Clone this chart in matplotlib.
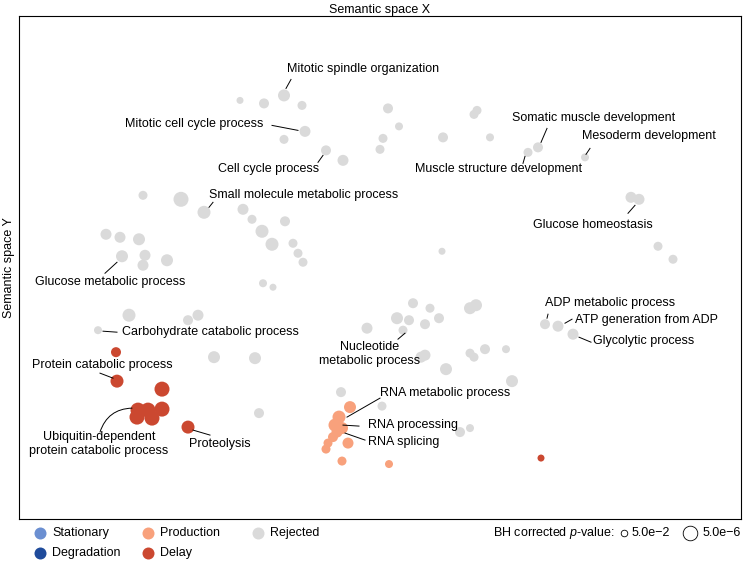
"""GO-term semantic space scatter (REVIGO style) with enrichment categories."""
import matplotlib
matplotlib.use("Agg")
import matplotlib.pyplot as plt
import numpy as np

plt.rcParams["font.family"] = ["Liberation Sans", "DejaVu Sans"]
plt.rcParams["mathtext.fontset"] = "custom"
plt.rcParams["mathtext.rm"] = "Liberation Sans"
plt.rcParams["mathtext.it"] = "Liberation Sans:italic"

# ---------------------------------------------------------------------------
# Data: semantic coordinates and -log10(BH p-value) per GO term
# ---------------------------------------------------------------------------
REJECTED_X = np.array([221, 245, 265, 283, 286, 265, 307, 324,
                       124, 162, 185, 224, 233, 243, 266, 253, 274, 279, 284,
                       87, 101, 120, 103, 126, 124, 148, 244, 254,
                       169, 179, 110, 79, 195, 236, 240, 348, 322,
                       394, 411, 378, 390, 384, 406, 420, 451, 457,
                       406, 402, 427, 451, 455, 466, 487, 493, 363, 441, 451,
                       526, 539, 554, 654, 639, 612, 620, 566, 509, 519, 471,
                       455, 458, 424, 369, 380, 364, 361, 423])
REJECTED_Y = np.array([419, 416, 424, 414, 388, 380, 369, 359,
                       324, 320, 307, 310, 300, 288, 298, 275, 276, 266, 257,
                       285, 282, 280, 263, 264, 254, 259, 236, 232,
                       199, 204, 204, 189, 162, 161, 106, 191, 127,
                       216, 211, 201, 199, 189, 195, 201, 211, 214,
                       164, 162, 150, 166, 162, 170, 170, 138, 113, 87, 91,
                       195, 193, 185, 260, 273, 322, 320, 362, 367, 372, 382,
                       405, 409, 382, 411, 393, 381, 370, 268])
REJECTED_NLP = np.array([1.5, 3.0, 4.0, 2.5, 3.5, 2.5, 3.0, 3.5,
                         2.5, 5.5, 4.5, 3.5, 2.5, 4.5, 3.0, 4.5, 2.5, 2.5, 2.5,
                         3.5, 3.5, 4.0, 4.0, 3.5, 3.5, 4.0, 2.0, 1.5,
                         3.0, 3.5, 4.5, 2.0, 4.0, 4.0, 3.0, 3.5, 3.0,
                         3.0, 2.5, 4.0, 3.0, 2.5, 3.0, 3.0, 4.0, 4.0,
                         3.5, 3.5, 4.0, 2.5, 2.5, 3.0, 2.0, 4.0, 2.5, 3.0, 2.0,
                         3.0, 3.5, 3.5, 2.5, 2.5, 3.5, 3.5, 2.0, 2.5, 3.0, 2.0,
                         2.5, 2.5, 3.0, 3.0, 2.0, 2.5, 2.5, 1.5])

PRODUCTION_X = np.array([331, 320, 316, 323, 318, 314, 309, 307, 329, 323, 370])
PRODUCTION_Y = np.array([112, 102, 94, 91, 87, 82, 76, 70, 76, 58, 55])
PRODUCTION_NLP = np.array([4.0, 4.5, 4.5, 4.0, 3.5, 3.0, 2.5, 2.5, 3.5, 2.5, 2.0])

DELAY_X = np.array([97, 98, 143, 119, 129, 143, 118, 133, 169, 522])
DELAY_Y = np.array([167, 138, 130, 109, 109, 110, 102, 101, 92, 61])
DELAY_NLP = np.array([3.0, 4.5, 5.5, 5.5, 5.5, 5.5, 5.5, 5.5, 4.5, 1.5])

CATEGORIES = ["Stationary", "Degradation", "Production", "Delay", "Rejected"]
COLORS = {
    "Stationary": "#6b8fd1",
    "Degradation": "#1f4b9b",
    "Production": "#f8a17c",
    "Delay": "#cb4830",
    "Rejected": "#dadada",
}
PVAL_LEGEND = [5.0e-2, 5.0e-6]
PVAL_LABELS = ["5.0e\u22122", "5.0e\u22126"]

# label, text x, text y, ha, leader start, leader end
LABELS = [
    ("Mitotic spindle organization", 268, 450, "left", (272, 440), (267, 431)),
    ("Mitotic cell cycle process", 106, 395, "left", (253, 394), (279, 389)),
    ("Cell cycle process", 199, 350, "left", (299, 357), (304, 364)),
    ("Small molecule metabolic process", 190, 324, "left", (194, 317), (190, 312)),
    ("Glucose metabolic process", 16, 237, "left", (86, 246), (98, 257)),
    ("Carbohydrate catabolic process", 103, 187, "left", (84, 188), (98, 187)),
    ("Protein catabolic process", 13, 154, "left", (81, 146), (94, 141)),
    ("Proteolysis", 170, 75, "left", (174, 89), (191, 84)),
    ("Nucleotide\nmetabolic process", 351, 165, "center", (379, 180), (386, 186)),
    ("RNA metabolic process", 361, 126, "left", (361, 121), (328, 102)),
    ("RNA processing", 349, 94, "left", (340, 93), (324, 94)),
    ("RNA splicing", 349, 77, "left", (346, 79), (326, 86)),
    ("Somatic muscle development", 493, 401, "left", (528, 391), (522, 377)),
    ("Mesoderm development", 563, 383, "left", (571, 371), (567, 365)),
    ("Muscle structure development", 396, 350, "left", (504, 356), (506, 363)),
    ("Glucose homeostasis", 514, 294, "left", (609, 306), (616, 314)),
    ("ADP metabolic process", 526, 216, "left", (528, 201), (529, 205)),
    ("ATP generation from ADP", 556, 199, "left", (546, 196), (553, 200)),
    ("Glycolytic process", 574, 178, "left", (560, 182), (572, 177)),
]
UBIQ_LABEL = ("Ubiquitin-dependent\nprotein catabolic process", 80, 75, (81, 87), (113, 111))

DPI = 100
FS = 9.0


def marker_area(nlp):
    """-log10(p) -> scatter area in pt^2 (diameter grows linearly)."""
    diam_px = 4 + 2 * np.asarray(nlp)
    return (diam_px * 72.0 / DPI) ** 2


fig = plt.figure(figsize=(7.51, 5.61), dpi=DPI)
ax = fig.add_axes([19 / 751, 42 / 561, 722 / 751, 503.5 / 561])

for name, xs, ys, nlp in [("Rejected", REJECTED_X, REJECTED_Y, REJECTED_NLP),
                          ("Production", PRODUCTION_X, PRODUCTION_Y, PRODUCTION_NLP),
                          ("Delay", DELAY_X, DELAY_Y, DELAY_NLP)]:
    ax.scatter(xs, ys, s=marker_area(nlp), color=COLORS[name], linewidths=0, zorder=2)

for text, tx, ty, ha, (x0, y0), (x1, y1) in LABELS:
    ax.text(tx, ty, text, ha=ha, va="center", fontsize=FS, linespacing=1.15, zorder=4)
    ax.plot([x0, x1], [y0, y1], color="black", lw=0.7, zorder=3)

text, tx, ty, start, end = UBIQ_LABEL
ax.text(tx, ty, text, ha="center", va="center", fontsize=FS, linespacing=1.15, zorder=4)
ax.annotate("", xy=end, xytext=start,
            arrowprops=dict(arrowstyle="-", lw=0.7, color="black",
                            shrinkA=0, shrinkB=0,
                            connectionstyle="arc3,rad=-0.35"))

ax.set_xlim(0, 722)
ax.set_ylim(0, 504)
ax.set_xticks([])
ax.set_yticks([])
for sp in ax.spines.values():
    sp.set_linewidth(0.8)
ax.xaxis.set_label_position("top")
ax.set_xlabel("Semantic space X", fontsize=FS, labelpad=2)
ax.set_ylabel("Semantic space Y", fontsize=FS, labelpad=3)

# ---------------------------------------------------------------------------
# Legends (figure pixel layout)
# ---------------------------------------------------------------------------
lax = fig.add_axes([0, 0, 1, 1], zorder=-1)
lax.set_xlim(0, 751)
lax.set_ylim(561, 0)
lax.axis("off")

legend_pos = {
    "Stationary": (40, 533), "Production": (148, 533), "Rejected": (258, 533),
    "Degradation": (40, 553), "Delay": (148, 553),
}
for name in CATEGORIES:
    px, py = legend_pos[name]
    lax.scatter([px], [py], s=(12 * 72.0 / DPI) ** 2, color=COLORS[name], linewidths=0)
    lax.text(px + 12, py, name, fontsize=FS, va="center", ha="left")

lax.text(493, 533, r"BH corrected $p$-value:", fontsize=FS, va="center", ha="left")
pval_x = [624, 690]
for p, lab, px in zip(PVAL_LEGEND, PVAL_LABELS, pval_x):
    lax.scatter([px], [533], s=marker_area(-np.log10(p)), facecolor="white",
                edgecolor="black", linewidths=0.6)
    lax.text(px + 8 + (5 if p < 1e-3 else 0), 533, lab, fontsize=FS, va="center", ha="left")

fig.savefig("out.png", dpi=DPI)
